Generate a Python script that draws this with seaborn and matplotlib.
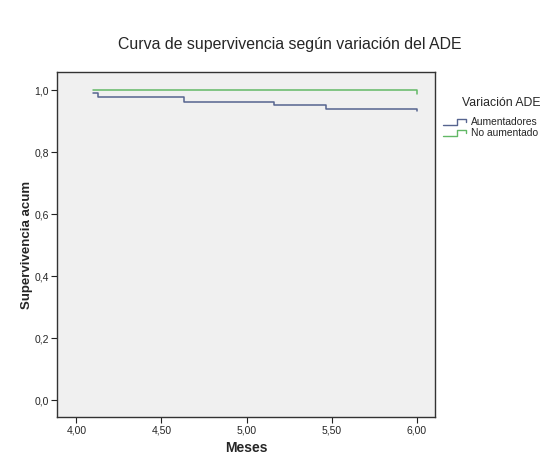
import matplotlib
matplotlib.use("Agg")
import matplotlib.pyplot as plt
import seaborn as sns
import pandas as pd
from matplotlib.legend_handler import HandlerBase
from matplotlib.lines import Line2D

# datos (tiempo en meses, supervivencia acumulada)
meses_aum = [4.10, 4.13, 4.634, 5.158, 5.468, 6.00, 6.00]
surv_aum = [0.990, 0.976, 0.963, 0.952, 0.939, 0.939, 0.932]
meses_no = [4.10, 6.00, 6.00]
surv_no = [1.000, 1.000, 0.987]
grupos = ["Aumentadores", "No aumentado"]
colores = ["#56648f", "#62b866"]
xticks = [4.0, 4.5, 5.0, 5.5, 6.0]
yticks = [0.0, 0.2, 0.4, 0.6, 0.8, 1.0]

df = pd.concat([
    pd.DataFrame({"Meses": meses_aum, "Surv": surv_aum, "grupo": grupos[0]}),
    pd.DataFrame({"Meses": meses_no, "Surv": surv_no, "grupo": grupos[1]}),
], ignore_index=True)

sns.set_style("white")
plt.rcParams["font.family"] = ["Liberation Sans", "DejaVu Sans"]


class HandlerEscalon(HandlerBase):
    # icono de leyenda en forma de escalon, como en SPSS
    def create_artists(self, legend, orig_handle, xdescent, ydescent,
                       width, height, fontsize, trans):
        x0, x1 = -xdescent, -xdescent + width
        xm = x0 + width * 0.6
        ylo, yhi = -ydescent + height * 0.05, -ydescent + height * 0.85
        l = Line2D([x0, xm, xm, x1, x1], [ylo, ylo, yhi, yhi, yhi - height * 0.35],
                   color=orig_handle.get_color(), lw=1.0, transform=trans)
        return [l]


fig = plt.figure(figsize=(5.6, 4.65), dpi=100)
ax = fig.add_axes([0.102, 0.103, 0.675, 0.742])
ax.set_facecolor("#f0f0f0")

sns.lineplot(data=df, x="Meses", y="Surv", hue="grupo", palette=colores,
             estimator=None, sort=False, drawstyle="steps-post", lw=1.1,
             legend=False, ax=ax)

ax.set_xlim(3.887, 6.107)
ax.set_ylim(-0.055, 1.058)
ax.set_xticks(xticks)
ax.set_xticklabels([f"{v:.2f}".replace(".", ",") for v in xticks], fontsize=7.5)
ax.set_yticks(yticks)
ax.set_yticklabels([f"{v:.1f}".replace(".", ",") for v in yticks], fontsize=7.5)
ax.tick_params(direction="out", length=4, width=0.8, color="#222222",
               bottom=True, left=True, pad=2)
for s in ax.spines.values():
    s.set_color("#333333")
    s.set_linewidth(1.0)

ax.set_xlabel("Meses", fontsize=10, fontweight="bold", labelpad=4)
ax.set_ylabel("Supervivencia acum", fontsize=9.5, fontweight="bold")
ax.yaxis.set_label_coords(-0.064, 0.5)

fig.text(0.518, 1 - 45 / 465, "Curva de supervivencia según variación del ADE",
         ha="center", va="center", fontsize=11.4)

fig.text(541 / 560, 1 - 103 / 465, "Variación ADE", ha="right", va="center",
         fontsize=8.8)
handles = [Line2D([], [], color=c) for c in colores]
leg = fig.legend(handles, grupos, loc="upper right",
                 bbox_to_anchor=(543 / 560, 1 - 112 / 465), frameon=False,
                 fontsize=7.4, handlelength=2.2, handleheight=0.9,
                 handletextpad=0.5, labelspacing=0.1, borderpad=0,
                 handler_map={Line2D: HandlerEscalon()})

fig.savefig("out.png", dpi=100, facecolor="white")
